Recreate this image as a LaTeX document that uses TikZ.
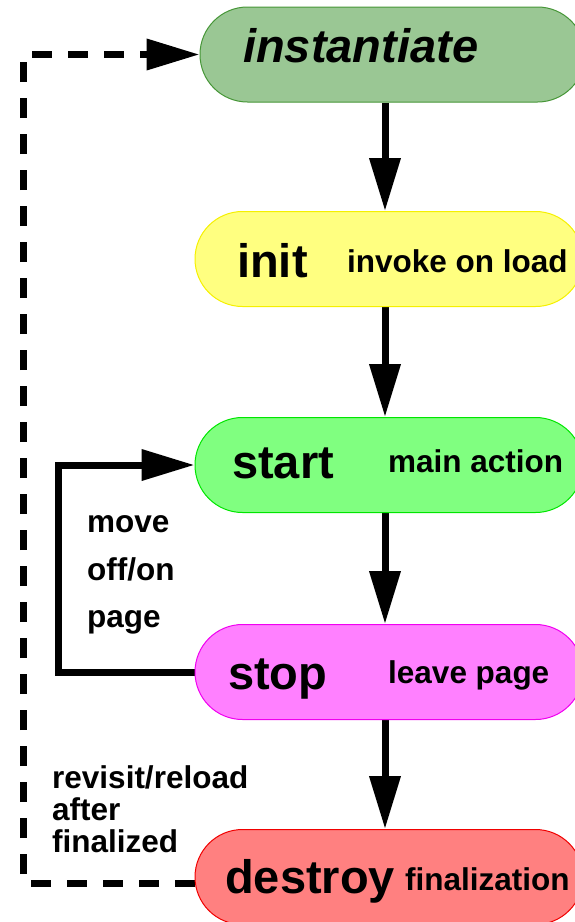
\documentclass[tikz,border=0pt]{standalone}
\usepackage{fontspec}
\setmainfont{Liberation Sans}
\usepackage{tikz}
\usetikzlibrary{shapes.misc, arrows.meta}
\pgfdeclarelayer{edgelayer}
\pgfdeclarelayer{nodelayer}
\pgfsetlayers{edgelayer,nodelayer,main}
\definecolor{instfill}{RGB}{154,199,148}
\definecolor{instdraw}{RGB}{70,150,55}
\definecolor{initfill}{RGB}{255,255,128}
\definecolor{initdraw}{RGB}{245,240,0}
\definecolor{startfill}{RGB}{128,255,128}
\definecolor{startdraw}{RGB}{0,230,0}
\definecolor{stopfill}{RGB}{255,128,255}
\definecolor{stopdraw}{RGB}{240,0,240}
\definecolor{destroyfill}{RGB}{255,128,128}
\definecolor{destroydraw}{RGB}{240,0,0}
\tikzstyle{statebox}=[rounded rectangle, draw, line width=1pt, minimum height=95pt, inner sep=0pt]
\tikzstyle{statename}=[anchor=base west, inner sep=0pt, font=\fontsize{47}{50}\selectfont\bfseries]
\tikzstyle{statenote}=[anchor=base west, inner sep=0pt, font=\fontsize{31.5}{34}\selectfont\bfseries]
\tikzstyle{flowedge}=[draw=black, line width=7pt, -{Triangle[length=53pt, width=30pt]}]
\tikzstyle{backedge}=[draw=black, line width=7pt, dash pattern=on 20pt off 16pt, -{Triangle[length=53pt, width=30pt]}]

\begin{document}
\begin{tikzpicture}[x=1pt, y=-1pt]
	\useasboundingbox (0, 0) rectangle (574, 922);
	\begin{pgfonlayer}{nodelayer}
		\node [style=statebox, fill=instfill, draw=instdraw, minimum width=385pt] (inst) at (392.5, 54.5) {};
		\node [style=statebox, fill=initfill, draw=initdraw, minimum width=388pt] (init) at (389, 259) {};
		\node [style=statebox, fill=startfill, draw=startdraw, minimum width=388pt] (start) at (389, 465) {};
		\node [style=statebox, fill=stopfill, draw=stopdraw, minimum width=388pt] (stop) at (389, 672) {};
		\node [style=statebox, fill=destroyfill, draw=destroydraw, minimum width=388pt] (destroy) at (389, 877) {};
	\end{pgfonlayer}
	% names and notes
	\node [style=statename, font=\fontsize{47}{50}\selectfont\bfseries\itshape] (instname) at (243, 62) {instantiate};
	\node [style=statename] (initname) at (237, 277) {init};
	\node [style=statenote] (initnote) at (347, 272) {invoke on load};
	\node [style=statename] (startname) at (232, 478) {start};
	\node [style=statenote] (startnote) at (388, 472) {main action};
	\node [style=statename] (stopname) at (228, 689) {stop};
	\node [style=statenote] (stopnote) at (388, 683) {leave page};
	\node [style=statename] (destroyname) at (225, 893) {destroy};
	\node [style=statenote] (destroynote) at (405, 890) {finalization};
	% loop labels
	\node [style=statenote] (move1) at (87, 532) {move};
	\node [style=statenote] (move2) at (87, 580) {off/on};
	\node [style=statenote] (move3) at (87, 627) {page};
	\node [style=statenote] (revisit1) at (52, 788) {revisit/reload};
	\node [style=statenote] (revisit2) at (52, 820) {after};
	\node [style=statenote] (revisit3) at (52, 852) {finalized};
	\begin{pgfonlayer}{edgelayer}
		\draw [style=flowedge] ([xshift=-7.5pt]inst.south) to ([xshift=-4pt]init.north);
		\draw [style=flowedge] ([xshift=-4pt]init.south) to ([xshift=-4pt]start.north);
		\draw [style=flowedge] ([xshift=-4pt]start.south) to ([xshift=-4pt]stop.north);
		\draw [style=flowedge] ([xshift=-4pt]stop.south) to ([xshift=-4pt]destroy.north);
		\draw [style=flowedge] (stop.west) -- ++(-136, 0) |- (start.west);
		\draw [style=backedge] ([yshift=-6pt]destroy.west) -- ++(-171, 0) |- (inst.west);
	\end{pgfonlayer}
\end{tikzpicture}
\end{document}
